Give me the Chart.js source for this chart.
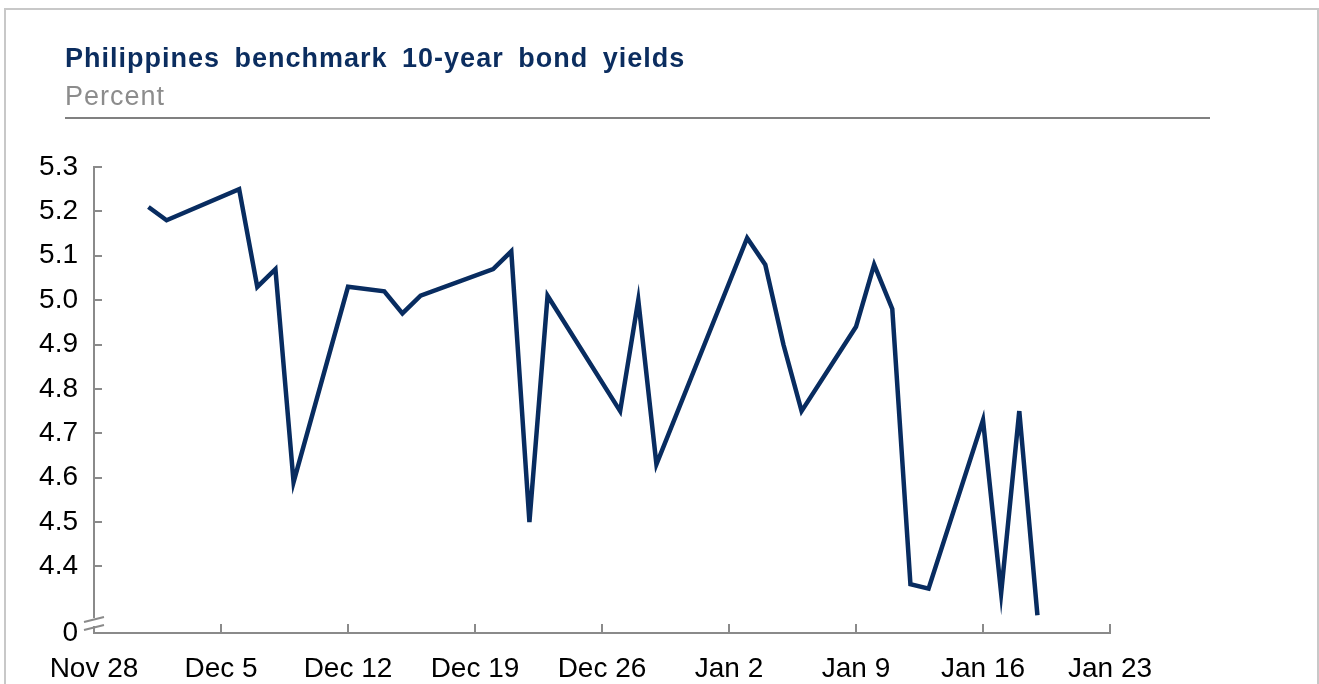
<!DOCTYPE html>
<html lang="en">
<head>
    <meta charset="utf-8">
    <title>Philippines benchmark 10-year bond yields</title>
    <script src="https://cdn.jsdelivr.net/npm/chart.js"></script>
    <style>
        html, body {
            margin: 0;
            padding: 0;
            background: #fff;
            width: 1319px;
            height: 684px;
            overflow: hidden;
            font-family: "Liberation Sans", Arial, sans-serif;
        }
        /* light grey frame round the whole chart */
        .frame {
            position: absolute;
            left: 4px;
            top: 8px;
            width: 1311px;
            height: 720px;
            border: 2px solid #c8c8c8;
        }
        .title {
            position: absolute;
            left: 65px;
            top: 45px;
            font-size: 27px;
            line-height: 27px;
            font-weight: bold;
            letter-spacing: 1px;
            word-spacing: 6px;
            color: #0b2d5f;
            white-space: nowrap;
        }
        .subtitle {
            position: absolute;
            left: 65px;
            top: 83px;
            font-size: 27px;
            line-height: 27px;
            letter-spacing: 1px;
            color: #8c8c8c;
        }
        .rule {
            position: absolute;
            left: 65px;
            top: 117px;
            width: 1145px;
            height: 2px;
            background: #808080;
        }
        canvas {
            position: absolute;
            left: 0;
            top: 0;
        }
    </style>
</head>
<body>
    <div class="frame"></div>
    <canvas id="myChart" width="1319" height="684"></canvas>
    <div class="title">Philippines benchmark 10-year bond yields</div>
    <div class="subtitle">Percent</div>
    <div class="rule"></div>

    <script>
        const obsDates = [
            "2022-12-01", "2022-12-02", "2022-12-06", "2022-12-07", "2022-12-08", "2022-12-09",
            "2022-12-12", "2022-12-14", "2022-12-15", "2022-12-16", "2022-12-20", "2022-12-21",
            "2022-12-22", "2022-12-23", "2022-12-27", "2022-12-28", "2022-12-29",
            "2023-01-03", "2023-01-04", "2023-01-05", "2023-01-06", "2023-01-09", "2023-01-10",
            "2023-01-11", "2023-01-12", "2023-01-13", "2023-01-16", "2023-01-17", "2023-01-18",
            "2023-01-19"
        ];
        const yields = [
            5.21, 5.18, 5.25, 5.03, 5.07, 4.59,
            5.03, 5.02, 4.97, 5.01, 5.07, 5.11,
            4.50, 5.01, 4.75, 5.00, 4.63,
            5.14, 5.08, 4.90, 4.75, 4.94, 5.08,
            4.98, 4.36, 4.35, 4.73, 4.34, 4.75,
            4.29
        ];

        // x axis: weekly ticks starting Nov 28
        const startDate = "2022-11-28";
        const xTickLabels = ["Nov 28", "Dec 5", "Dec 12", "Dec 19", "Dec 26", "Jan 2", "Jan 9", "Jan 16", "Jan 23"];

        // y axis is broken: the bottom tick (shown as 0) sits just below 4.4
        const yBreakValue = 4.25;
        const yTicks = [4.25, 4.4, 4.5, 4.6, 4.7, 4.8, 4.9, 5.0, 5.1, 5.2, 5.3];
        const yTickLabels = ["0", "4.4", "4.5", "4.6", "4.7", "4.8", "4.9", "5.0", "5.1", "5.2", "5.3"];

        const NAVY = "#082c60";
        const AXIS = "#8a8a8a";

        function dayOffset(d) {
            return Math.round((Date.parse(d) - Date.parse(startDate)) / 86400000);
        }

        const points = obsDates.map((d, i) => ({ x: dayOffset(d), y: yields[i] }));

        // inward tick marks + the axis break symbol
        const axisDecor = {
            id: "axisDecor",
            afterDraw(chart) {
                const ctx = chart.ctx;
                const xs = chart.scales.x, ys = chart.scales.y;
                const left = chart.chartArea.left, bottom = chart.chartArea.bottom;
                ctx.save();
                ctx.strokeStyle = AXIS;
                ctx.lineWidth = 2;
                ctx.beginPath();
                ys.ticks.forEach(t => {
                    if (t.value === yBreakValue) return;
                    const y = Math.round(ys.getPixelForValue(t.value));
                    ctx.moveTo(left, y);
                    ctx.lineTo(left + 8, y);
                });
                xs.ticks.forEach((t, i) => {
                    if (i === 0) return;
                    const x = Math.round(xs.getPixelForValue(t.value));
                    ctx.moveTo(x, bottom);
                    ctx.lineTo(x, bottom - 9);
                });
                ctx.stroke();

                // break: gap in the y axis with two slashes
                ctx.fillStyle = "#fff";
                ctx.fillRect(left - 2, bottom - 15, 4, 8);
                ctx.beginPath();
                ctx.moveTo(left - 10, bottom - 11);
                ctx.lineTo(left + 10, bottom - 16);
                ctx.moveTo(left - 10, bottom - 3);
                ctx.lineTo(left + 10, bottom - 8);
                ctx.stroke();
                ctx.restore();
            }
        };

        const tickFont = { family: "'Liberation Sans', Arial, sans-serif", size: 28 };

        new Chart(document.getElementById("myChart").getContext("2d"), {
            type: "line",
            data: {
                datasets: [{
                    label: "10-year yield",
                    data: points,
                    borderColor: NAVY,
                    borderWidth: 4.5,
                    borderJoinStyle: "miter",
                    pointRadius: 0,
                    tension: 0,
                    fill: false
                }]
            },
            options: {
                responsive: false,
                animation: false,
                devicePixelRatio: 1,
                layout: {
                    padding: { left: 34, top: 167, right: 209, bottom: 6 }
                },
                plugins: {
                    legend: { display: false },
                    tooltip: { enabled: false }
                },
                scales: {
                    x: {
                        type: "linear",
                        min: 0,
                        max: 56,
                        grid: { display: false, drawTicks: false },
                        border: { display: true, color: AXIS, width: 2 },
                        afterBuildTicks: s => { s.ticks = xTickLabels.map((_, i) => ({ value: i * 7 })); },
                        afterFit: s => { s.height = 45; },
                        ticks: {
                            autoSkip: false,
                            maxRotation: 0,
                            color: "#000",
                            font: tickFont,
                            padding: 19,
                            callback: (v, i) => xTickLabels[i]
                        }
                    },
                    y: {
                        min: yBreakValue,
                        max: 5.3,
                        grid: { display: false, drawTicks: false },
                        border: { display: true, color: AXIS, width: 2 },
                        afterBuildTicks: s => { s.ticks = yTicks.map(v => ({ value: v })); },
                        afterFit: s => { s.width = 60; },
                        ticks: {
                            color: "#000",
                            font: tickFont,
                            padding: 16,
                            callback: (v, i) => yTickLabels[i]
                        }
                    }
                }
            },
            plugins: [axisDecor]
        });
    </script>
</body>
</html>
